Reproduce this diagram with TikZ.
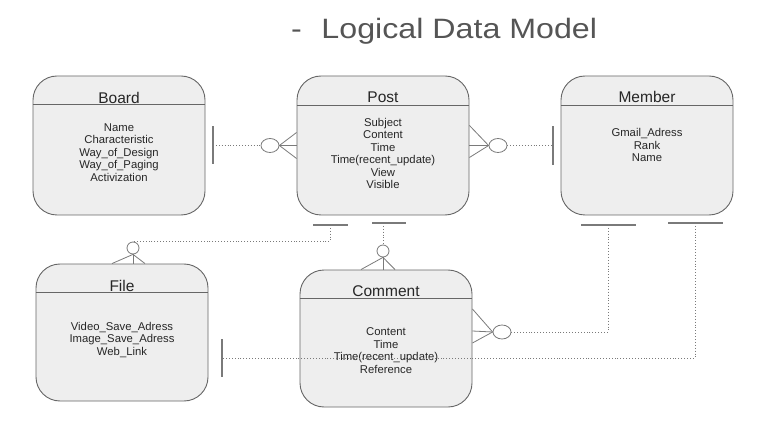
\documentclass[tikz,border=0pt]{standalone}
\usepackage{fontspec}
\setmainfont{Liberation Sans}
\usetikzlibrary{positioning, calc, shapes.geometric}
\definecolor{boxfill}{HTML}{EEEEEE}
\definecolor{boxline}{HTML}{666666}
\definecolor{linkgray}{HTML}{7A7A7A}
\definecolor{titlegray}{HTML}{555555}

\begin{document}
\begin{tikzpicture}[
  x=1pt, y=-1pt,
  entity/.style={
    draw=boxline, line width=0.9pt, fill=boxfill, rounded corners=24pt,
    minimum width=172pt, minimum height=139pt, inner sep=0pt
  },
  ehead/.style={font=\fontsize{15.5}{18}\selectfont, text=black!85, inner sep=0pt},
  eattr/.style={font=\fontsize{11.3}{12.5}\selectfont, align=center, text=black!85, inner sep=0pt},
  optcirc/.style={draw=linkgray, ellipse, fill=white, line width=0.8pt,
    minimum width=18pt, minimum height=14pt, inner sep=0pt},
  smallcirc/.style={draw=linkgray, circle, fill=white, line width=0.8pt,
    minimum size=12pt, inner sep=0pt},
  relline/.style={draw=linkgray, line width=0.8pt},
  dotline/.style={draw=linkgray, line width=0.9pt, dotted},
  barline/.style={draw=linkgray, line width=1.3pt}
]
\useasboundingbox (0,0) rectangle (781,446);

% Title
\node[anchor=base west, inner sep=0pt, text=titlegray, font=\fontsize{28}{32}\selectfont]
  (title) at (291,39) {\scalebox{1.15}[1]{-\hspace{17pt}Logical Data Model}};

% Row 1: Board, Post, Member
\node[entity] (board) at (119,145.5) {};
\node[entity] (post) at (383,145.5) {};
\node[entity] (member) at (647,145.5) {};

% Row 2: File, Comment
\node[entity, minimum height=137pt] (file) at (122,332.5) {};
\node[entity, minimum height=137pt] (comment) at (386,338.5) {};

% Header lines
\foreach \e/\d in {board/29, post/30, member/29.5, file/29, comment/29}
  \draw[draw=boxline, line width=0.9pt]
    ($(\e.north west)+(0,\d)$) -- ($(\e.north east)+(0,\d)$);

% Entity names
\node[ehead] at ($(board.north)+(0,22)$) {Board};
\node[ehead] at ($(post.north)+(0,22)$) {Post};
\node[ehead] at ($(member.north)+(0,21.5)$) {Member};
\node[ehead] at ($(file.north)+(0,22)$) {File};
\node[ehead] at ($(comment.north)+(0,22)$) {Comment};

% Attributes
\node[eattr] at ($(board.north)+(0,77)$)
  {Name\\Characteristic\\Way\_of\_Design\\Way\_of\_Paging\\Activization};
\node[eattr] at ($(post.north)+(0,78)$)
  {Subject\\Content\\Time\\Time(recent\_update)\\View\\Visible};
\node[eattr] at ($(member.north)+(0,69.5)$)
  {Gmail\_Adress\\Rank\\Name};
\node[eattr] at ($(file.north)+(0,76)$)
  {Video\_Save\_Adress\\Image\_Save\_Adress\\Web\_Link};
\node[eattr] at ($(comment.north)+(0,81)$)
  {Content\\Time\\Time(recent\_update)\\Reference};

% Board -- Post
\coordinate (bpbar) at (213,145.5);
\node[optcirc] (bpc) at (270,145.5) {};
\draw[barline] ($(bpbar)+(0,-19)$) -- ($(bpbar)+(0,19)$);
\draw[dotline] (bpbar) -- (bpc.west);
\foreach \dy in {-13,0,13}
  \draw[relline] (bpc.east) -- ($(post.west)+(0,\dy)$);

% Post -- Member
\coordinate (pmbar) at (553,145.5);
\node[optcirc] (pmc) at (498,145.5) {};
\draw[barline] ($(pmbar)+(0,-19)$) -- ($(pmbar)+(0,20)$);
\draw[dotline] (pmc.east) -- (pmbar);
\foreach \dy in {-20,0,12}
  \draw[relline] (pmc.west) -- ($(post.east)+(0,\dy)$);

% Post -- File
\coordinate (pfbar) at (330,225);
\node[smallcirc] (pfc) at (133,248) {};
\draw[barline] ($(pfbar)+(-17,0)$) -- ($(pfbar)+(18,0)$);
\draw[dotline] (pfbar) |- (pfc.north);
\foreach \dx in {-21,0,12}
  \draw[relline] (pfc.south) -- ($(pfc.south |- file.north)+(\dx,0)$);

% Post -- Comment
\coordinate (pcbar) at (383,223);
\node[smallcirc] (pcc) at (383,251) {};
\draw[barline] ($(pcbar)+(-11,0)$) -- ($(pcbar)+(23,0)$);
\draw[dotline] (pcbar) -- (pcc.north);
\foreach \dx in {-22,0,12}
  \draw[relline] (pcc.south) -- ($(pcc.south |- comment.north)+(\dx,0)$);

% Member -- Comment
\coordinate (mcbar) at (608,225);
\node[optcirc] (mcc) at (502,332) {};
\draw[barline] ($(mcbar)+(-27,0)$) -- ($(mcbar)+(28,0)$);
\draw[dotline] (mcbar) |- (mcc.east);
\foreach \dy in {-29.5,-7.5,4.5}
  \draw[relline] (mcc.west) -- ($(comment.east)+(0,\dy)$);

% Member -- File (wraps under Comment)
\coordinate (mfbar) at (695,223);
\coordinate (fmbar) at (222,358);
\draw[barline] ($(mfbar)+(-27,0)$) -- ($(mfbar)+(28,0)$);
\draw[barline] ($(fmbar)+(0,-19)$) -- ($(fmbar)+(0,19)$);
\draw[dotline] (mfbar) |- (fmbar);

\end{tikzpicture}
\end{document}
